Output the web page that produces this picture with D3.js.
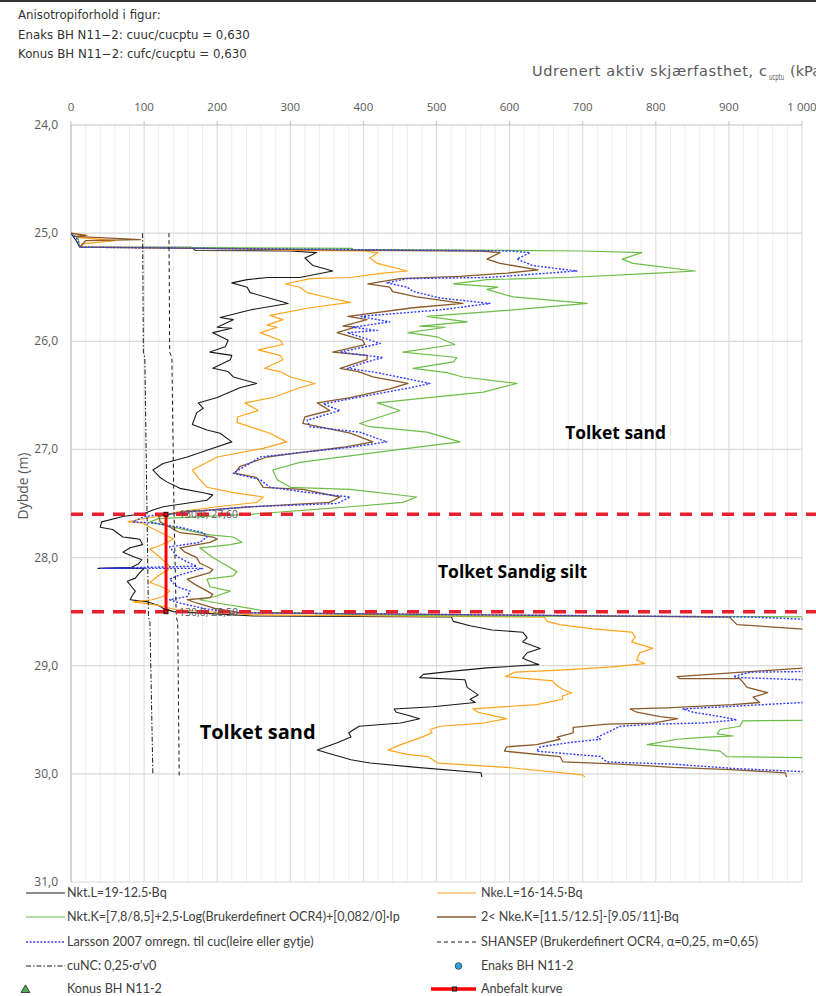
<!DOCTYPE html>
<html><head><meta charset="utf-8">
<script src="https://cdn.jsdelivr.net/npm/d3@7/dist/d3.min.js"></script>
<style>body{margin:0;background:#fff}</style>
</head><body>
<svg id="c" width="816" height="996"></svg>
<script>
// ---- data: [depth (m), value (kPa)] ----
const nktL = [[25.00,0],[25.08,8],[25.13,12],[25.13,165],[25.16,170],[25.165,300],
[25.18,336],[25.23,320],[25.30,331],[25.35,358],[25.41,313],[25.41,269],[25.43,241],[25.46,220],[25.50,241],[25.55,245],[25.62,282],[25.65,297],[25.71,245],[25.78,204],[25.80,222],[25.87,200],[25.88,220],[25.92,194],[25.99,215],[26.05,211],[26.10,190],[26.13,220],[26.17,218],[26.25,194],[26.28,215],[26.33,222],[26.39,254],[26.43,231],[26.52,200],[26.57,174],[26.62,181],[26.66,172],[26.77,166],[26.82,186],[26.85,204],[26.93,220],[26.99,194],[27.07,159],[27.13,126],[27.19,112],[27.26,122],[27.30,131],[27.36,149],[27.40,181],[27.42,194],[27.47,186],[27.53,126],[27.56,112],
[27.59,101],[27.62,71],[27.67,42],[27.72,40],[27.74,57],[27.81,71],[27.82,83],[27.83,94],[27.88,98],[27.91,81],[27.95,71],[27.99,85],[28.02,97],[28.06,92],[28.09,83],[28.10,37],[28.10,100],[28.14,94],[28.19,88],[28.22,77],[28.27,83],[28.31,88],[28.36,83],[28.39,81],[28.41,105],[28.44,119],[28.47,126],[28.50,140],[28.54,250],[28.55,521],
[28.56,521],[28.59,523],[28.63,546],[28.67,576],[28.69,618],[28.74,624],[28.78,618],[28.84,642],[28.88,624],[28.93,618],[28.97,632],[28.99,640],[29.02,569],[29.05,523],[29.08,482],[29.11,477],[29.13,539],[29.20,542],[29.27,557],[29.31,546],[29.34,553],[29.38,495],[29.40,442],[29.43,445],[29.46,462],[29.49,477],[29.53,451],[29.56,394],[29.62,380],[29.66,383],[29.71,365],[29.78,337],[29.81,352],[29.87,383],[29.90,409],[29.94,473],[29.99,561],[30.03,562]];

const nkeL = [[25.00,0],[25.02,22],[25.04,8],[25.07,60],[25.10,15],[25.13,15],[25.14,220],[25.16,300],[25.165,400],
[25.18,420],[25.23,409],[25.28,419],[25.35,460],[25.37,427],[25.41,382],[25.42,327],[25.47,293],[25.50,313],[25.55,323],[25.60,354],[25.64,382],[25.69,327],[25.76,272],[25.80,290],[25.85,268],[25.87,282],[25.92,259],[25.99,286],[26.03,290],[26.08,256],[26.13,286],[26.17,290],[26.25,265],[26.28,286],[26.33,300],[26.39,334],[26.43,313],[26.52,276],[26.57,238],[26.64,256],[26.70,228],[26.75,227],[26.81,254],[26.85,272],[26.93,295],[26.99,263],[27.07,200],[27.19,166],[27.26,174],[27.35,186],[27.40,222],[27.44,263],[27.49,254],[27.53,200],[27.58,145],[27.62,118],
[27.65,90],[27.67,78],[27.68,98],[27.72,108],[27.81,135],[27.83,140],[27.90,118],[27.92,108],[28.00,122],[28.08,135],[28.11,133],[28.17,119],[28.23,108],[28.27,124],[28.31,135],[28.36,126],[28.39,111],[28.41,85],[28.44,118],[28.48,142],[28.53,250],[28.55,648],
[28.59,651],[28.62,669],[28.66,714],[28.69,767],[28.73,772],[28.78,767],[28.84,796],[28.88,778],[28.95,774],[28.98,785],[29.01,741],[29.04,669],[29.06,607],[29.10,594],[29.14,659],[29.17,662],[29.22,673],[29.25,685],[29.28,672],[29.31,673],[29.36,637],[29.39,569],[29.40,550],[29.43,557],[29.47,583],[29.49,596],[29.53,564],[29.56,505],[29.59,491],[29.62,494],[29.66,480],[29.73,451],[29.78,434],[29.82,460],[29.84,488],[29.90,502],[29.94,596],[30.01,700],[30.03,703]];

const nktK = [[25.00,0],[25.05,10],[25.13,12],[25.14,385],[25.15,385],[25.165,700],
[25.18,781],[25.24,754],[25.28,769],[25.35,854],[25.37,802],[25.41,679],[25.43,569],[25.47,523],[25.50,584],[25.52,569],[25.59,605],[25.65,706],[25.71,605],[25.77,487],[25.82,542],[25.86,477],[25.87,512],[25.92,461],[25.96,501],[26.03,525],[26.10,454],[26.15,528],[26.19,523],[26.25,468],[26.29,514],[26.33,536],[26.39,610],[26.47,564],[26.57,419],[26.64,450],[26.76,395],[26.79,409],[26.84,487],[26.93,532],[27.00,450],[27.12,313],[27.19,276],[27.28,282],[27.35,300],[27.37,382],[27.44,473],[27.49,454],[27.53,382],[27.60,245],
[27.64,120],[27.67,108],[27.74,153],[27.79,190],[27.81,222],[27.86,234],[27.88,218],[27.91,176],[28.00,194],[28.05,207],[28.13,227],[28.17,222],[28.20,186],[28.27,190],[28.31,218],[28.36,197],[28.39,176],[28.42,200],[28.47,245],[28.51,276],[28.54,500],[28.55,1150],
[28.80,1250],[29.10,1200],[29.45,1150],[29.50,1100],[29.51,919],[29.56,915],[29.59,888],[29.63,884],[29.65,906],[29.66,870],[29.68,829],[29.73,788],[29.75,823],[29.79,888],[29.84,897],[29.85,1001],[29.87,1150],[30.03,1200]];

const nkeK = [[25.00,0],[25.02,20],[25.03,5],[25.06,95],[25.07,20],[25.13,12],[25.16,400],[25.165,560],
[25.18,587],[25.24,569],[25.28,587],[25.34,639],[25.37,596],[25.40,532],[25.42,450],[25.47,406],[25.50,436],[25.54,440],[25.59,473],[25.65,536],[25.69,468],[25.77,379],[25.80,405],[25.86,372],[25.87,389],[25.92,364],[25.99,399],[26.03,402],[26.10,358],[26.13,405],[26.17,405],[26.25,368],[26.28,393],[26.33,413],[26.39,461],[26.44,436],[26.52,382],[26.57,337],[26.64,354],[26.70,320],[26.76,317],[26.85,382],[26.93,413],[26.98,372],[27.03,313],[27.07,268],[27.16,231],[27.22,224],[27.26,254],[27.35,263],[27.37,317],[27.44,368],[27.49,354],[27.53,245],[27.58,153],
[27.62,120],[27.67,122],[27.77,149],[27.79,176],[27.81,194],[27.83,200],[27.86,190],[27.91,149],[27.95,156],[28.00,172],[28.05,176],[28.11,194],[28.14,190],[28.20,159],[28.25,170],[28.29,181],[28.34,194],[28.37,190],[28.39,159],[28.42,172],[28.47,197],[28.51,231],[28.55,902],
[28.56,902],[28.62,911],[28.63,933],[28.66,997],[28.70,1100],[28.90,1150],[29.00,1100],[29.02,1005],[29.10,829],[29.12,833],[29.12,915],[29.20,925],[29.25,953],[29.29,933],[29.34,942],[29.36,905],[29.39,815],[29.40,765],[29.43,774],[29.47,806],[29.49,830],[29.53,796],[29.54,733],[29.57,687],[29.62,687],[29.66,665],[29.68,669],[29.73,637],[29.75,596],[29.79,593],[29.84,669],[29.89,673],[29.91,751],[29.94,824],[29.96,902],[29.99,977],[30.03,979]];

const larsson = [[25.00,0],[25.05,8],[25.13,12],[25.165,600],
[25.18,628],[25.24,610],[25.30,632],[25.35,692],[25.38,632],[25.41,569],[25.42,460],[25.46,432],[25.50,460],[25.54,468],[25.60,505],[25.65,573],[25.71,505],[25.77,395],[25.82,436],[25.87,386],[25.90,419],[25.92,378],[26.02,423],[26.10,368],[26.15,427],[26.19,405],[26.25,378],[26.29,419],[26.39,491],[26.43,464],[26.52,391],[26.58,345],[26.64,368],[26.73,323],[26.79,327],[26.84,395],[26.93,432],[26.98,382],[27.03,313],[27.07,259],[27.22,222],[27.28,259],[27.35,272],[27.40,327],[27.44,382],[27.50,364],[27.53,245],[27.58,156],
[27.62,100],[27.67,85],[27.68,112],[27.72,149],[27.77,181],[27.81,186],[27.86,176],[27.90,135],[27.99,145],[28.04,159],[28.08,172],[28.10,40],[28.10,180],[28.16,149],[28.20,135],[28.27,145],[28.31,163],[28.36,159],[28.39,135],[28.42,149],[28.47,181],[28.51,218],[28.55,933],
[28.57,1001],[28.60,1080],[29.00,1150],[29.05,1050],[29.06,929],[29.10,906],[29.11,915],[29.13,1001],[29.20,1120],[29.33,1060],[29.34,1001],[29.40,837],[29.43,851],[29.47,888],[29.50,911],[29.53,865],[29.54,796],[29.56,751],[29.62,733],[29.66,720],[29.68,724],[29.71,683],[29.75,642],[29.79,637],[29.84,724],[29.89,733],[29.91,824],[29.95,906],[29.98,1001],[30.03,1060]];

const shansep = [[25.00,134],[26.10,135],[26.15,138],[27.60,141],[28.55,144],[28.60,146],[30.03,148]];
const cuNC = [[25.00,98],[26.10,99],[26.15,101],[27.60,104],[28.55,106],[28.60,108],[30.00,112]];

const anbefalt = [[27.60,130.0],[28.50,130.0]];
const layerBounds = [27.60, 28.50];

const xTicks = [0,100,200,300,400,500,600,700,800,900,1000];
const yTicks = [24,25,26,27,28,29,30,31];

const infoLines = ["Anisotropiforhold i figur:","Enaks BH N11\u22122: cuuc/cucptu = 0,630","Konus BH N11\u22122: cufc/cucptu = 0,630"];
const zoneLabels = [
  {text:"Tolket sand", depth:26.90, value:676, size:17.4},
  {text:"Tolket Sandig silt", depth:28.19, value:502, size:17.5},
  {text:"Tolket sand", depth:29.68, value:176, size:20}
];

const legendItems = [
  {label:"Nkt.L=19-12.5\u00b7Bq", type:"line", color:"#1a1a1a", dash:null, w:1.2},
  {label:"Nke.L=16-14.5\u00b7Bq", type:"line", color:"#ffa31a", dash:null, w:1.2},
  {label:"Nkt.K=[7,8/8,5]+2,5\u00b7Log(Brukerdefinert OCR4)+[0,082/0]\u00b7Ip", type:"line", color:"#6cbd45", dash:null, w:1.2},
  {label:"2< Nke.K=[11.5/12.5]-[9.05/11]\u00b7Bq", type:"line", color:"#8a5a2b", dash:null, w:1.6},
  {label:"Larsson 2007 omregn. til cuc(leire eller gytje)", type:"line", color:"#2f3cff", dash:"2,1.6", w:1.4},
  {label:"SHANSEP (Brukerdefinert OCR4, \u03b1=0,25, m=0,65)", type:"line", color:"#1a1a1a", dash:"4,3", w:1},
  {label:"cuNC: 0,25\u00b7\u03c3'v0", type:"line", color:"#1a1a1a", dash:"5,2,1.5,2", w:1},
  {label:"Enaks BH N11-2", type:"circle", color:"#35a3dc"},
  {label:"Konus BH N11-2", type:"triangle", color:"#4caf50"},
  {label:"Anbefalt kurve", type:"red", color:"#ff0000"}
];

// ---- chart ----
const W = 816, H = 996;
const svg = d3.select("#c");
svg.append("rect").attr("width",W).attr("height",H).attr("fill","#fff");

const x = d3.scaleLinear().domain([0,1000]).range([71,802]);
const y = d3.scaleLinear().domain([24,31]).range([125,882]);
const loc = d3.formatLocale({decimal:",", thousands:"\u00a0", grouping:[3], currency:["",""]});
const fx = loc.format(",.0f"), fy = loc.format(".1f"), fl = loc.format(".2f"), fv = loc.format(".1f");

// top border
svg.append("line").attr("x1",0).attr("x2",W).attr("y1",1).attr("y2",1).attr("stroke","#333").attr("stroke-width",2);

// info text
svg.append("g").selectAll("text").data(infoLines).join("text")
  .attr("x",18).attr("y",(d,i)=>19+i*19.5)
  .attr("font-family","DejaVu Sans, sans-serif").attr("font-size",11.8).attr("fill","#333")
  .text(d=>d);

// gridlines
const g = svg.append("g");
g.selectAll(".vmin").data(d3.range(0,1001,20).filter(v=>v%100!==0)).join("line")
  .attr("x1",d=>x(d)).attr("x2",d=>x(d)).attr("y1",y(24)).attr("y2",y(31))
  .attr("stroke","#ededed").attr("stroke-width",1);
g.selectAll(".vmaj").data(xTicks).join("line")
  .attr("x1",d=>x(d)).attr("x2",d=>x(d)).attr("y1",y(24)).attr("y2",y(31))
  .attr("stroke","#d9d9d9").attr("stroke-width",1);
g.selectAll(".hmaj").data(yTicks.slice(1)).join("line")
  .attr("x1",x(0)).attr("x2",x(1000)).attr("y1",d=>y(d)).attr("y2",d=>y(d))
  .attr("stroke","#d9d9d9").attr("stroke-width",1.2);

// axes lines
g.append("line").attr("x1",x(0)).attr("x2",x(1000)).attr("y1",y(24)).attr("y2",y(24)).attr("stroke","#bfbfbf");
g.append("line").attr("x1",x(0)).attr("x2",x(0)).attr("y1",y(24)).attr("y2",y(31)).attr("stroke","#bfbfbf");
g.selectAll(".xt").data(xTicks).join("line")
  .attr("x1",d=>x(d)).attr("x2",d=>x(d)).attr("y1",y(24)-4).attr("y2",y(24)).attr("stroke","#bfbfbf");

// tick labels
svg.append("g").selectAll("text").data(xTicks).join("text")
  .attr("x",d=>x(d)).attr("y",y(24)-14).attr("text-anchor","middle")
  .attr("font-family","Open Sans, sans-serif").attr("font-size",11.5).attr("fill","#595959")
  .text(d=>fx(d));
svg.append("g").selectAll("text").data(yTicks).join("text")
  .attr("x",x(0)-13).attr("y",d=>y(d)+4).attr("text-anchor","end")
  .attr("font-family","Open Sans, sans-serif").attr("font-size",12).attr("fill","#595959")
  .text(d=>fy(d));

// axis titles
const tg = svg.append("g").attr("font-family","DejaVu Sans, sans-serif").attr("fill","#595959");
tg.append("text").attr("x",532).attr("y",76).attr("font-size",14.5)
  .attr("textLength",235).attr("lengthAdjust","spacing").text("Udrenert aktiv skjærfasthet, c");
tg.append("text").attr("x",769).attr("y",80).attr("font-size",8.5)
  .attr("textLength",15).attr("lengthAdjust","spacingAndGlyphs").text("ucptu");
tg.append("text").attr("x",790).attr("y",76).attr("font-size",14.5).text("(kPa)");
svg.append("text").attr("transform","translate(28,486) rotate(-90)").attr("text-anchor","middle")
  .attr("font-family","Open Sans, sans-serif").attr("font-size",14).attr("fill","#595959")
  .text("Dybde (m)");

// clip
svg.append("clipPath").attr("id","pc").append("rect")
  .attr("x",x(0)).attr("y",y(24)).attr("width",x(1000)-x(0)+0.5).attr("height",y(31)-y(24));
const plot = svg.append("g").attr("clip-path","url(#pc)");

const line = d3.line().x(d=>x(d[1])).y(d=>y(d[0]));
const series = [
  {d:nktL, c:"#1a1a1a", w:1.1, dash:null},
  {d:nkeL, c:"#ffa31a", w:1.2, dash:null},
  {d:nktK, c:"#6cbd45", w:1.2, dash:null},
  {d:nkeK, c:"#8a5a2b", w:1.3, dash:null},
  {d:larsson, c:"#2f3cff", w:1.4, dash:"2,1.6"},
  {d:shansep, c:"#1a1a1a", w:1, dash:"4,3"},
  {d:cuNC, c:"#1a1a1a", w:1, dash:"5,2,1.5,2"}
];
series.forEach(s=>{
  plot.append("path").attr("d",line(s.d)).attr("fill","none").attr("stroke",s.c)
    .attr("stroke-width",s.w).attr("stroke-dasharray",s.dash).attr("stroke-linejoin","round");
});

// layer boundaries (red dashed)
svg.append("g").selectAll("line").data(layerBounds).join("line")
  .attr("x1",x(0)).attr("x2",W).attr("y1",d=>y(d)).attr("y2",d=>y(d))
  .attr("stroke","#e8202e").attr("stroke-width",3.5).attr("stroke-dasharray","12,9");

// recommended curve
svg.append("path").attr("d",line(anbefalt)).attr("stroke","#ff0000").attr("stroke-width",3).attr("fill","none");
svg.append("g").selectAll("rect").data(anbefalt).join("rect")
  .attr("x",d=>x(d[1])-2).attr("y",d=>y(d[0])-2).attr("width",4).attr("height",4)
  .attr("fill","#ff0000").attr("stroke","#111").attr("stroke-width",1);
svg.append("g").selectAll("text").data(anbefalt).join("text")
  .attr("x",d=>x(d[1])+13).attr("y",d=>y(d[0])+4)
  .attr("font-family","Open Sans, sans-serif").attr("font-size",10.5).attr("fill","#595959")
  .text(d=>fv(d[1])+", "+fl(d[0]));

// zone labels
svg.append("g").selectAll("text").data(zoneLabels).join("text")
  .attr("x",d=>x(d.value)).attr("y",d=>y(d.depth))
  .attr("font-family","Open Sans, Lato, sans-serif").attr("font-weight","bold")
  .attr("font-size",d=>d.size).attr("fill","#000").text(d=>d.text);

// legend
const rows = [893,917,942,966,989];
const cols = [{x1:26,x2:65,tx:67},{x1:437,x2:476,tx:481}];
const lg = svg.append("g");
legendItems.forEach((it,i)=>{
  const col = cols[i%2], ry = rows[Math.floor(i/2)];
  const cx = (col.x1+col.x2)/2;
  if(it.type==="line"){
    lg.append("line").attr("x1",col.x1).attr("x2",col.x2).attr("y1",ry).attr("y2",ry)
      .attr("stroke",it.color).attr("stroke-width",it.w).attr("stroke-dasharray",it.dash);
  } else if(it.type==="circle"){
    lg.append("circle").attr("cx",cx+2).attr("cy",ry).attr("r",3.3).attr("fill",it.color).attr("stroke","#1d3d5c").attr("stroke-width",0.8);
  } else if(it.type==="triangle"){
    lg.append("path").attr("d",d3.symbol(d3.symbolTriangle,34)()).attr("transform",`translate(${cx-20},${ry+1})`)
      .attr("fill",it.color).attr("stroke","#1a1a1a").attr("stroke-width",0.8);
  } else {
    lg.append("line").attr("x1",col.x1-6).attr("x2",col.x2).attr("y1",ry).attr("y2",ry)
      .attr("stroke",it.color).attr("stroke-width",3.5);
    lg.append("rect").attr("x",cx-4).attr("y",ry-2).attr("width",4).attr("height",4).attr("fill","#ff0000").attr("stroke","#111").attr("stroke-width",1);
  }
  lg.append("text").attr("x",col.tx).attr("y",ry+4)
    .attr("font-family","Lato, sans-serif").attr("font-size",12.6).attr("fill","#404040")
    .text(it.label);
});
</script>
</body></html>
